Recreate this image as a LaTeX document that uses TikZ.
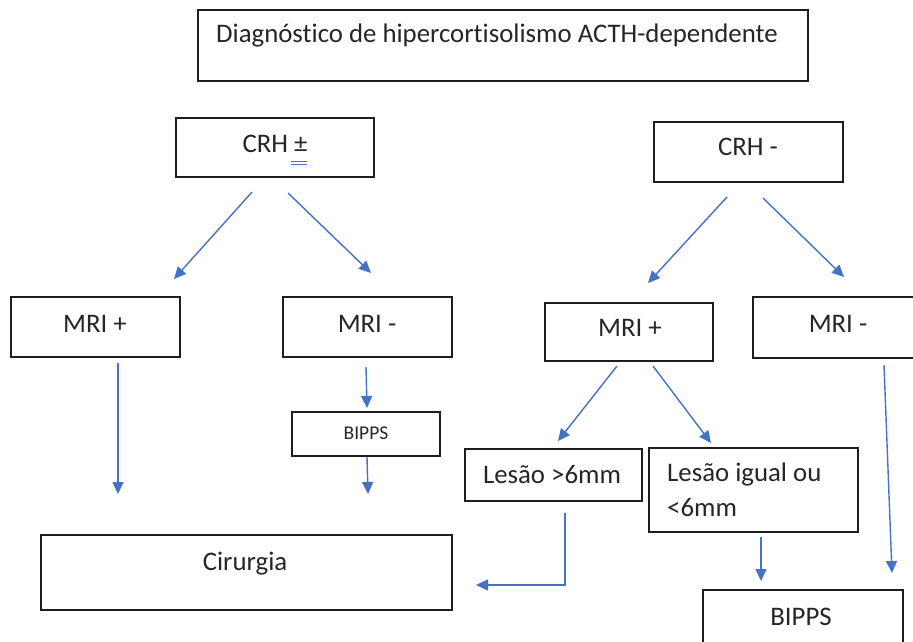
\documentclass[tikz,border=0pt]{standalone}
\usepackage{fontspec}
\setmainfont{Carlito}[Ligatures=NoCommon]
\usetikzlibrary{arrows.meta}
\definecolor{arrowblue}{HTML}{4472C4}
\definecolor{boxline}{HTML}{1E1E1E}
\definecolor{txt}{HTML}{262626}
\tikzset{
  box/.style={draw=boxline, line width=1.4pt, rectangle, inner sep=0pt},
  lbl/.style={anchor=base, inner sep=0pt, text=txt, font=\fontsize{26.8}{32}\selectfont},
  lblw/.style={anchor=base west, inner sep=0pt, text=txt, font=\fontsize{26.8}{32}\selectfont},
  small/.style={anchor=base, inner sep=0pt, text=txt, font=\fontsize{19.5}{23}\selectfont},
  conn/.style={draw=arrowblue, line width=1.4pt, -{Triangle[length=12pt,width=11pt]}}
}
\begin{document}
\begin{tikzpicture}[x=1pt,y=-1pt]
\useasboundingbox[fill=white] (0,0) rectangle (913,641);
% boxes
\node[box, minimum width=610pt, minimum height=71pt] (title) at (503,45.5) {};
\node[box, minimum width=198pt, minimum height=59pt] (crhp) at (275,147.5) {};
\node[box, minimum width=189pt, minimum height=60pt] (crhm) at (748.5,152) {};
\node[box, minimum width=169pt, minimum height=60pt] (mrip1) at (95.5,327) {};
\node[box, minimum width=169pt, minimum height=60pt] (mrim1) at (367.5,327) {};
\node[box, minimum width=168pt, minimum height=58pt] (mrip2) at (629,332) {};
\node[box, minimum width=170pt, minimum height=61pt] (mrim2) at (838,327.5) {};
\node[box, minimum width=148pt, minimum height=44pt] (bipps1) at (366,434) {};
\node[box, minimum width=177pt, minimum height=52pt] (les1) at (553.5,475) {};
\node[box, minimum width=209pt, minimum height=84pt] (les2) at (753.5,490) {};
\node[box, minimum width=200pt, minimum height=70pt] (bipps2) at (803,625) {};
\node[box, minimum width=411pt, minimum height=75pt] (cir) at (246.5,572.5) {};
% texts
\node[lblw] (ttitle) at (216,42) {Diagnóstico de hipercortisolismo ACTH-dependente};
\node[lbl] (tcrhp) at (275,152) {CRH ±};
\draw[arrowblue, line width=0.9pt] (291,161) -- (307,161) (291,164) -- (307,164);
\node[lbl] (tcrhm) at (748,155) {CRH -};
\node[lbl] (tmrip1) at (95,332) {MRI +};
\node[lbl] (tmrim1) at (367,332) {MRI -};
\node[lbl] (tmrip2) at (630,336) {MRI +};
\node[lbl] (tmrim2) at (838,332) {MRI -};
\node[small] (tbipps1) at (366,439) {BIPPS};
\node[lbl] (tles1) at (552,483) {Lesão >6mm};
\node[lblw] (tles2a) at (667,481) {Lesão igual ou};
\node[lblw] (tles2b) at (667,516) {<6mm};
\node[lbl] (tbipps2) at (801,625) {BIPPS};
\node[lbl] (tcir) at (245,570) {Cirurgia};
% connector end points
\coordinate (a1s) at (252,192); \coordinate (a1e) at (174,279);
\coordinate (a2s) at (288,193); \coordinate (a2e) at (371,273);
\coordinate (a3s) at (727,197); \coordinate (a3e) at (648,283);
\coordinate (a4s) at (763,198); \coordinate (a4e) at (844,277);
\coordinate (a5s) at (118,363); \coordinate (a5e) at (118,494);
\coordinate (a6s) at (366,367); \coordinate (a6e) at (367,408);
\coordinate (a7s) at (367,457); \coordinate (a7e) at (368,494);
\coordinate (a8s) at (617,366); \coordinate (a8e) at (558,441);
\coordinate (a9s) at (653,366); \coordinate (a9e) at (711,443);
\coordinate (a10s) at (565,513); \coordinate (a10m) at (565,585); \coordinate (a10e) at (476,585);
\coordinate (a11s) at (761,537); \coordinate (a11e) at (761,581);
\coordinate (a12s) at (884,365); \coordinate (a12e) at (892,573);
% connectors
\draw[conn] (a1s) -- (a1e);
\draw[conn] (a2s) -- (a2e);
\draw[conn] (a3s) -- (a3e);
\draw[conn] (a4s) -- (a4e);
\draw[conn] (a5s) -- (a5e);
\draw[conn] (a6s) -- (a6e);
\draw[conn] (a7s) -- (a7e);
\draw[conn] (a8s) -- (a8e);
\draw[conn] (a9s) -- (a9e);
\draw[conn] (a10s) -- (a10m) -- (a10e);
\draw[conn] (a11s) -- (a11e);
\draw[conn] (a12s) -- (a12e);
\end{tikzpicture}
\end{document}
